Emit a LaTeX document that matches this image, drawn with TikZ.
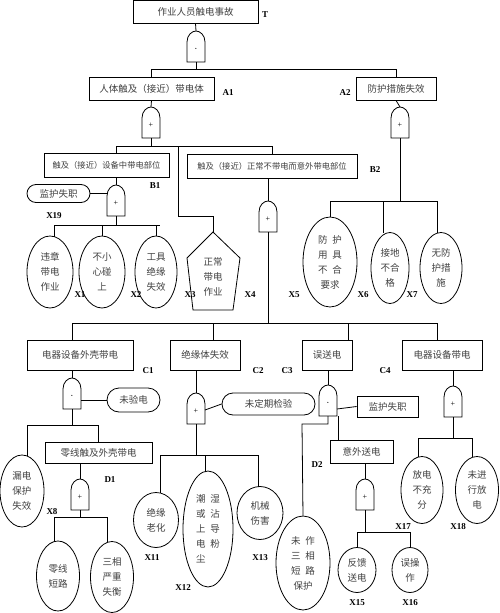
\documentclass[tikz,border=0pt]{standalone}
\usepackage{fontspec}
\setmainfont{Liberation Serif}
\newfontfamily\cjk{Noto Sans CJK SC}
\usetikzlibrary{shapes.geometric,shapes.misc}
\newcommand\hsp{\hspace{0.5em}}
\begin{document}
\begin{tikzpicture}[x=1pt,y=-1pt,line width=0.8pt,
  box/.style={draw,rectangle,inner sep=0pt,font=\cjk\fontsize{9.5}{11}\selectfont,text=black!75},
  rbox/.style={draw,rounded rectangle,inner sep=0pt,font=\cjk\fontsize{9.5}{11}\selectfont,text=black!75},
  ell/.style={draw,ellipse,inner sep=0pt,align=center,font=\cjk\fontsize{9.5}{15}\selectfont,text=black!75},
  lab/.style={font=\bfseries\fontsize{9}{10}\selectfont,inner sep=0pt}]
\useasboundingbox (0,0) rectangle (500,613);
\newcommand\fgate[4]{% name, x, ytop, symbol
  \draw (#2-9,#3+31) -- (#2-9,#3+11) .. controls (#2-9,#3+4) and (#2-4,#3) .. (#2,#3) .. controls (#2+4,#3) and (#2+9,#3+4) .. (#2+9,#3+11) -- (#2+9,#3+31) -- cycle;
  \node[inner sep=0pt,font=\fontsize{8}{8}\selectfont] at (#2,#3+18) {#4};
  \coordinate (#1t) at (#2,#3); \coordinate (#1b) at (#2,#3+31);}
\newcommand\andsym{\scalebox{0.6}{\textbullet}}
% boxes
\node[box,minimum width=125,minimum height=23] (T) at (195.5,11.5) {作业人员触电事故};
\node[lab] at (265,15) {T};
\node[box,minimum width=125,minimum height=23] (A1) at (151.5,88.5) {人体触及（接近）带电体};
\node[lab] at (228,93) {A1};
\node[box,minimum width=80,minimum height=23] (A2) at (396,88.5) {防护措施失效};
\node[lab] at (345,93) {A2};
\node[box,minimum width=125,minimum height=24,font=\cjk\fontsize{8.3}{10}\selectfont] (B1) at (106.5,165.5) {触及（接近）设备中带电部位};
\node[lab] at (155,186) {B1};
\node[box,minimum width=170,minimum height=24,font=\cjk\fontsize{8.3}{10}\selectfont] (B2) at (272,166) {触及（接近）正常不带电而意外带电部位};
\node[lab] at (375,170) {B2};
\node[box,minimum width=106,minimum height=30] (C1) at (80,355) {电器设备外壳带电};
\node[lab] at (148,371) {C1};
\node[box,minimum width=70,minimum height=30] (C2) at (205,355) {绝缘体失效};
\node[lab] at (258,371) {C2};
\node[box,minimum width=50,minimum height=30] (C3) at (327,355) {误送电};
\node[lab] at (287,371) {C3};
\node[box,minimum width=80,minimum height=30] (C4) at (442,355) {电器设备带电};
\node[lab] at (385,371) {C4};
\node[box,minimum width=107,minimum height=21] (D1) at (98.5,452.5) {零线触及外壳带电};
\node[lab] at (110,480) {D1};
\node[box,minimum width=63,minimum height=23] (D2) at (361.5,451.5) {意外送电};
\node[lab] at (317,465) {D2};
% gates
\fgate{gT}{196}{31}{\andsym}
\fgate{gA1}{151}{107}{+}
\fgate{gA2}{400}{107}{+}
\fgate{gB1}{116}{185}{+}
\fgate{gB2}{268}{201}{+}
\fgate{gC1}{72}{378}{\andsym}
\fgate{gC2}{196}{393}{+}
\fgate{gC3}{328}{385}{\andsym}
\fgate{gC4}{453}{386}{+}
\fgate{gD1}{80}{479}{+}
\fgate{gD2}{365}{479}{+}
% side events
\node[rbox,minimum width=63,minimum height=18] (X19) at (58.5,193.5) {监护失职};
\node[lab] at (54,216) {X19};
\node[rbox,minimum width=53,minimum height=24] (wy) at (133.5,400) {未验电};
\node[rbox,minimum width=93,minimum height=22] (wd) at (268.5,404) {未定期检验};
\node[box,minimum width=61,minimum height=21] (jh) at (387.5,406.5) {监护失职};
% basic events
\node[ell,minimum width=46,minimum height=72] (X1) at (50,272) {违章\\带电\\作业};
\node[ell,minimum width=46,minimum height=72] (X2) at (102,272) {不小\\心碰\\上};
\node[ell,minimum width=42,minimum height=72] (X3) at (156,272) {工具\\绝缘\\失效};
\coordinate (X4top) at (213,232);
\draw (X4top) -- (240,258) -- (233,310) -- (193,310) -- (187,258) -- cycle;
\node[align=center,font=\cjk\fontsize{9.5}{15}\selectfont,text=black!75] (X4) at (213,277) {正常\\带电\\作业};
\node[lab] at (80,295) {X1};\node[lab] at (136,295) {X2};\node[lab] at (190,295) {X3};\node[lab] at (250,295) {X4};
\node[ell,minimum width=54,minimum height=90] (X5) at (330,262) {防\hsp{}护\\用\hsp{}具\\不\hsp{}合\\要求};
\node[ell,minimum width=38,minimum height=71] (X6) at (390,268) {接地\\不合\\格};
\node[ell,minimum width=42,minimum height=71] (X7) at (441,268) {无防\\护措\\施};
\node[lab] at (294,295) {X5};\node[lab] at (363,295) {X6};\node[lab] at (412,295) {X7};
\node[ell,minimum width=44,minimum height=72] (X8) at (22,491) {漏电\\保护\\失效};
\node[lab] at (52,512) {X8};
\node[ell,minimum width=43,minimum height=70] (X9) at (58,576) {零线\\短路};
\node[ell,minimum width=43,minimum height=71] (X10) at (112,577) {三相\\严重\\失衡};
\node[ell,minimum width=45,minimum height=55] (X11) at (156,520) {绝缘\\老化};
\node[lab] at (152,558) {X11};
\node[ell,minimum width=50,minimum height=116] (X12) at (208,529) {潮\hsp{}湿\\或\hsp{}沾\\上\hsp{}导\\电\hsp{}粉\\尘\phantom{\hsp{}粉}};
\node[lab] at (183,588) {X12};
\node[ell,minimum width=46,minimum height=53] (X13) at (260,513) {机械\\伤害};
\node[lab] at (260,558) {X13};
\node[ell,minimum width=54,minimum height=94] (X14) at (303,563) {未\hsp{}作\\三\hsp{}相\\短\hsp{}路\\保护};
\node[ell,minimum width=38,minimum height=45] (X15) at (357,570) {反馈\\送电};
\node[ell,minimum width=36,minimum height=45] (X16) at (410,570) {误操\\作};
\node[lab] at (357,603) {X15};\node[lab] at (410,603) {X16};
\node[ell,minimum width=42,minimum height=67] (X17) at (422,490) {放电\\不充\\分};
\node[ell,minimum width=43,minimum height=67] (X18) at (477,490) {未进\\行放\\电};
\node[lab] at (403,527) {X17};\node[lab] at (458,527) {X18};
% connectors
\draw (T.south) -- (gTt);
\draw (gTb) -- (196,69) -| (A1.north); \draw (196,69) -| (A2.north);
\draw (A1.south) -- (gA1t); \draw (A2.south) -- (gA2t);
\draw (gA1b) -- (151,146) -| (116,154); \draw (151,146) -| (B2.north);
\draw (178,146) |- (213,216) -- (X4top);
\draw (B1.south -| gB1t) -- (gB1t);
\draw (X19.east) -- (107,193.5);
\draw (gB1b) -- (116,225); \draw (54,225) -- (160,225);
\draw (54,225) -- (54,236.5); \draw (102,225) -- (X2.north); \draw (156,225) -- (X3.north);
\draw (B2.south -| gB2t) -- (gB2t);
\draw (gB2b) -- (268,323);
\draw (72,323) -- (437,323);
\draw (72,323) -- (72,340); \draw (213,323) -- (213,340); \draw (348,323) -- (348,340); \draw (437,323) -- (437,340);
\draw (gA2b) -- (400,201); \draw (330,201) -- (437,201);
\draw (330,201) -- (X5.north); \draw (383,201) -- (383,233); \draw (437,201) -- (437,232.5);
% C1
\draw (72,370) -- (gC1t); \draw (81,400) -- (wy.west);
\draw (gC1b) -- (72,425); \draw (27,425) -- (98,425);
\draw (27,425) -- (27,455.5); \draw (98,425) -- (98,442);
\draw (80,463) -- (gD1t); \draw (gD1b) -- (80,517);
\draw (54,517) -- (107,517); \draw (54,517) -- (54,541.5); \draw (107,517) -- (107,541.8);
% C2
\draw (196,370) -- (gC2t); \draw (205,410) -- (wd.west);
\draw (gC2b) -- (196,455); \draw (160,455) -- (258,455);
\draw (160,455) -- (160,492.7); \draw (205,455) -- (205,471); \draw (258,455) -- (258,486.6);
% C3
\draw (328,370) -- (gC3t); \draw (337,409) -- (jh.west);
\draw (328,416) -- (328,424) -- (302,424) -- (X14.north);
\draw (338,416) -- (338,440);
\draw (365,463) -- (gD2t); \draw (gD2b) -- (365,532);
\draw (357,532) -- (410,532); \draw (357,532) -- (X15.north); \draw (410,532) -- (X16.north);
% C4
\draw (453,370) -- (gC4t); \draw (gC4b) -- (453,438);
\draw (418,438) -- (472,438); \draw (418,438) -- (418,456.8); \draw (472,438) -- (472,457.3);
\end{tikzpicture}
\end{document}
